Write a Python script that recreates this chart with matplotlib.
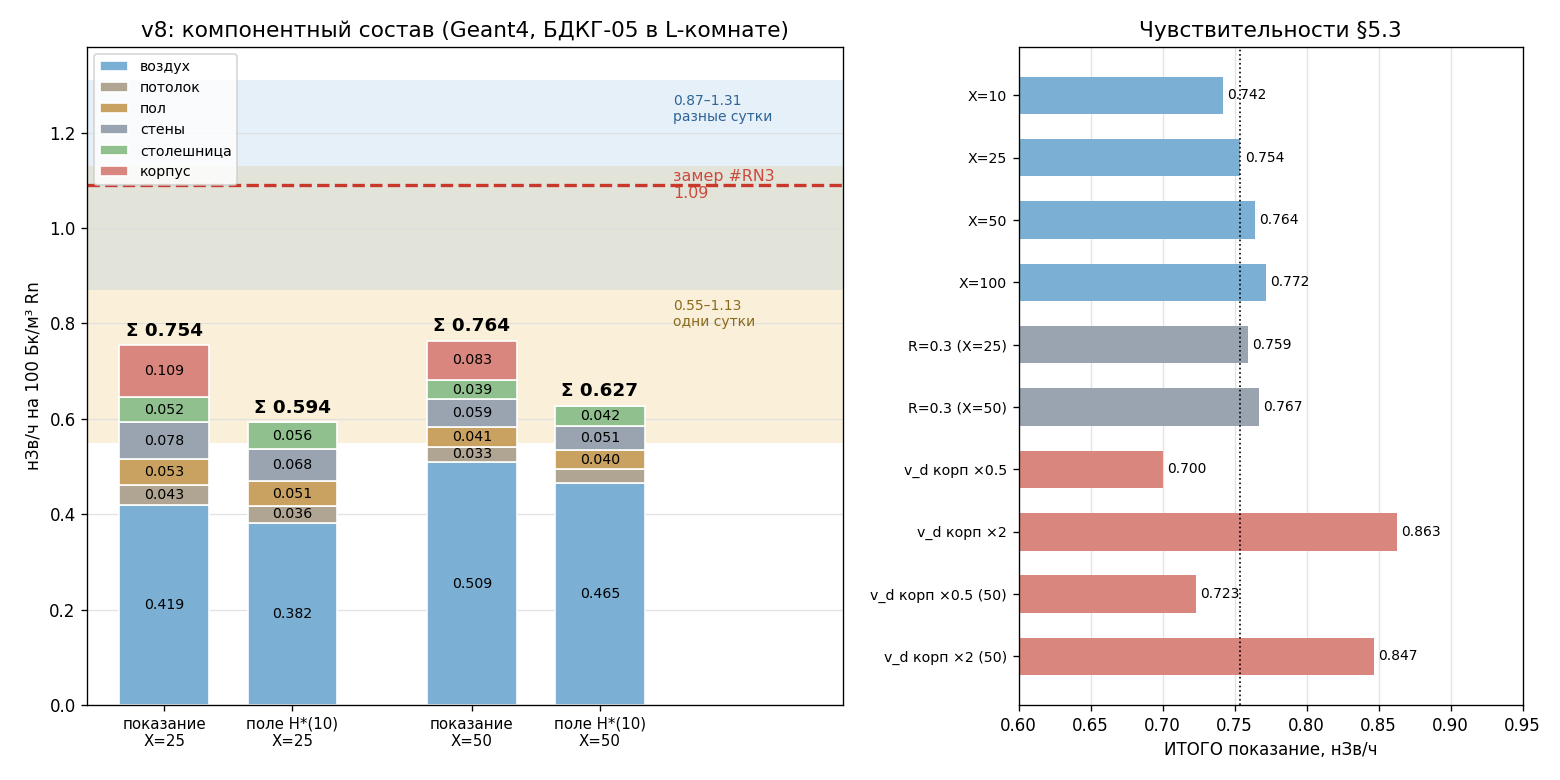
import numpy as np
import matplotlib
matplotlib.use("Agg")
import matplotlib.pyplot as plt

# данные: компонентный состав
bar_labels = ['показание\nX=25', 'поле H*(10)\nX=25', 'показание\nX=50', 'поле H*(10)\nX=50']
components = ['воздух', 'потолок', 'пол', 'стены', 'столешница', 'корпус']
air = [0.419, 0.382, 0.509, 0.465]
ceiling = [0.043, 0.036, 0.033, 0.029]
floor_ = [0.053, 0.051, 0.041, 0.040]
walls = [0.078, 0.068, 0.059, 0.051]
table = [0.052, 0.056, 0.039, 0.042]
body = [0.109, 0.0, 0.083, 0.0]
totals = [0.754, 0.594, 0.764, 0.627]

measured = 1.09
band_days = (0.87, 1.31)
band_one = (0.55, 1.13)

# данные: чувствительности
sens_labels = ['X=10', 'X=25', 'X=50', 'X=100', 'R=0.3 (X=25)', 'R=0.3 (X=50)',
               'v_d корп ×0.5', 'v_d корп ×2', 'v_d корп ×0.5 (50)', 'v_d корп ×2 (50)']
sens_values = [0.742, 0.754, 0.764, 0.772, 0.759, 0.767, 0.700, 0.863, 0.723, 0.847]
sens_groups = ['X', 'X', 'X', 'X', 'R', 'R', 'v', 'v', 'v', 'v']
baseline = 0.754

colors = ['#7bb0d4', '#b0a492', '#c9a262', '#9aa4b0', '#8fc08e', '#d9877e']
group_colors = {'X': '#7bb0d4', 'R': '#9aa4b0', 'v': '#d9877e'}

fig = plt.figure(figsize=(13, 6.5), dpi=120)
gs = fig.add_gridspec(1, 2, width_ratios=[1.5, 1], left=0.056, right=0.976,
                      top=0.94, bottom=0.096, wspace=0.278)
ax = fig.add_subplot(gs[0])
ax2 = fig.add_subplot(gs[1])

# левая панель
x = np.array([0, 1, 2.4, 3.4])
ax.axhspan(band_one[0], band_one[1], color='#ecbc5a', alpha=0.22, lw=0, zorder=0)
ax.axhspan(band_days[0], band_days[1], color='#5b9bd5', alpha=0.15, lw=0, zorder=0.1)
ax.axhline(measured, color='#c9392b', ls='--', lw=2, zorder=1)

bottom = np.zeros(4)
for name, vals, c in zip(components, [air, ceiling, floor_, walls, table, body], colors):
    vals = np.array(vals)
    ax.bar(x, vals, 0.7, bottom=bottom, color=c, edgecolor='white', lw=1, label=name, zorder=2)
    for xi, b, v in zip(x, bottom, vals):
        if v >= 0.03:
            ax.text(xi, b + v / 2, f'{v:.3f}', ha='center', va='center', fontsize=8.5, zorder=3)
    bottom += vals

for xi, t, b in zip(x, totals, bottom):
    ax.text(xi, b + 0.012, f'Σ {t:.3f}', ha='center', va='bottom', fontsize=11,
            fontweight='bold', zorder=3)

ax.text(3.97, 1.25, '0.87–1.31\nразные сутки', color='#2e6496', fontsize=8.3, va='center')
ax.text(3.97, 1.09, 'замер #RN3\n1.09', color='#c9392b', fontsize=9.5, va='center', alpha=0.9)
ax.text(3.97, 0.82, '0.55–1.13\nодни сутки', color='#8a6a1c', fontsize=8.3, va='center')

ax.set_xticks(x)
ax.set_xticklabels(bar_labels, fontsize=9)
ax.set_xlim(-0.6, 5.3)
ax.set_ylim(0, 1.38)
ax.set_ylabel('нЗв/ч на 100 Бк/м³ Rn', fontsize=10)
ax.set_title('v8: компонентный состав (Geant4, БДКГ-05 в L-комнате)', fontsize=13)
ax.grid(axis='y', color='#dddddd', lw=0.8, alpha=0.8)
ax.set_axisbelow(True)
ax.legend(loc='upper left', fontsize=8.5)

# правая панель
y = np.arange(len(sens_labels))
ax2.barh(y, sens_values, 0.6, color=[group_colors[g] for g in sens_groups], zorder=2)
for yi, v in zip(y, sens_values):
    ax2.text(v + 0.003, yi, f'{v:.3f}', va='center', fontsize=8.3, zorder=3)
ax2.axvline(baseline, color='black', ls=':', lw=1, zorder=3)
ax2.set_yticks(y)
ax2.set_yticklabels(sens_labels, fontsize=8.5)
ax2.invert_yaxis()
ax2.set_xlim(0.60, 0.95)
ax2.set_xlabel('ИТОГО показание, нЗв/ч', fontsize=10)
ax2.set_title('Чувствительности §5.3', fontsize=13)
ax2.grid(axis='x', color='#dddddd', lw=0.8, alpha=0.8)
ax2.set_axisbelow(True)

fig.savefig('out.png', dpi=120)
